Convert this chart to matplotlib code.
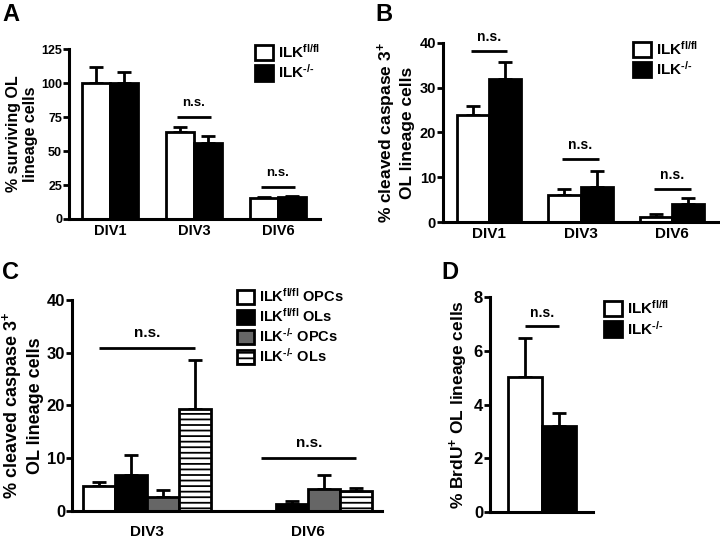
import matplotlib
matplotlib.use('Agg')
import matplotlib.pyplot as plt
from matplotlib.patches import Patch
import numpy as np

plt.rcParams['font.family'] = ['Liberation Sans', 'DejaVu Sans']
plt.rcParams['font.weight'] = 'bold'
plt.rcParams['axes.labelweight'] = 'bold'
plt.rcParams['mathtext.fontset'] = 'custom'
plt.rcParams['mathtext.rm'] = 'Liberation Sans:bold'
plt.rcParams['mathtext.bf'] = 'Liberation Sans:bold'
plt.rcParams['mathtext.it'] = 'Liberation Sans:bold'
plt.rcParams['mathtext.default'] = 'bf'
plt.rcParams['hatch.linewidth'] = 1.3

# panel A: surviving OL lineage cells
days_ab = ['DIV1', 'DIV3', 'DIV6']
surv_flfl = [100, 64, 15.5]
surv_flfl_err = [12, 4, 1.0]
surv_ko = [100, 56, 16]
surv_ko_err = [8, 5, 1.0]
surv_ns = [(1, 75), (2, 23.5)]

# panel B: cleaved caspase 3+
casp_flfl = [24, 6, 1.1]
casp_flfl_err = [2, 1.4, 0.6]
casp_ko = [32, 7.8, 4]
casp_ko_err = [3.7, 3.6, 1.3]
casp_ns = [(0, 38.2), (1, 14), (2, 7.4)]

# panel C: OPCs vs OLs
days_c = ['DIV3', 'DIV6']
c_flfl_opc = [4.8, 0]
c_flfl_opc_err = [0.7, 0]
c_flfl_ol = [6.8, 1.3]
c_flfl_ol_err = [3.8, 0.6]
c_ko_opc = [2.6, 4.2]
c_ko_opc_err = [1.4, 2.6]
c_ko_ol = [19.3, 3.7]
c_ko_ol_err = [9.3, 0.7]
c_ns = [(0, 30.9), (1, 10.0)]

# panel D: BrdU+
brdu = [5.03, 3.21]
brdu_err = [1.45, 0.46]
brdu_ns = 6.93

LW = 2.0
FL = 'ILK$^{fl/fl}$'
KO = 'ILK$^{\\text{-/-}}$'
HATCH = '---'


def bars(ax, x, vals, errs, width, **style):
    ax.bar(x, vals, width, edgecolor='black', linewidth=LW, zorder=2, **style)
    ax.errorbar(x, vals, yerr=[np.zeros(len(vals)), errs], fmt='none', ecolor='black',
                elinewidth=LW, capsize=5, capthick=LW, zorder=1)


def style_axes(ax, tick_size, label_size):
    for s in ['top', 'right']:
        ax.spines[s].set_visible(False)
    for s in ['left', 'bottom']:
        ax.spines[s].set_linewidth(2.2)
    ax.tick_params(axis='y', direction='out', length=4, width=2.0, pad=1, labelsize=tick_size)
    ax.tick_params(axis='x', length=0, labelsize=label_size)


def ns_line(ax, x0, x1, y, size=9, gap=0.06):
    ax.plot([x0, x1], [y, y], color='black', lw=LW, solid_capstyle='butt')
    ymax = ax.get_ylim()[1]
    ax.text((x0 + x1) / 2, y + gap * ymax, 'n.s.', ha='center', va='bottom', fontsize=size)


def legend(ax, handles, x, y, size=11):
    ax.legend(handles=handles, loc='upper left', bbox_to_anchor=(x, y), frameon=False,
              borderpad=0, borderaxespad=0, handlelength=1.15, handleheight=1.15,
              handletextpad=0.35, labelspacing=0.15, fontsize=size)


def patch(color, label, hatch=None):
    return Patch(facecolor=color, edgecolor='black', lw=LW, hatch=hatch, label=label)


fig = plt.figure(figsize=(7.2, 5.41), dpi=100)

# ---- A
ax = fig.add_axes([0.0958, 0.5952, 0.3486, 0.3142])
x = np.arange(len(days_ab))
w = 0.333
bars(ax, x - w / 2, surv_flfl, surv_flfl_err, w, color='white')
bars(ax, x + w / 2, surv_ko, surv_ko_err, w, color='black')
ax.set_xlim(-0.49, 2.5)
ax.set_ylim(0, 125)
ax.set_yticks([0, 25, 50, 75, 100, 125])
ax.set_xticks(x, days_ab)
style_axes(ax, 9, 10.5)
ax.set_ylabel('% surviving OL\nlineage cells', fontsize=11.5, labelpad=2)
for gx, gy in surv_ns:
    ns_line(ax, gx - 0.2, gx + 0.2, gy, size=9.5, gap=0.05)
legend(ax, [patch('white', FL), patch('black', KO)], 0.743, 1.035)

# ---- B
ax = fig.add_axes([0.6153, 0.5896, 0.382, 0.331])
w = 0.35
bars(ax, x - w / 2, casp_flfl, casp_flfl_err, w, color='white')
bars(ax, x + w / 2, casp_ko, casp_ko_err, w, color='black')
ax.set_xlim(-0.5, 2.5)
ax.set_ylim(0, 40)
ax.set_yticks([0, 10, 20, 30, 40])
ax.set_xticks(x, days_ab)
style_axes(ax, 10.5, 11)
ax.set_ylabel('% cleaved caspase 3$^{+}$\nOL lineage cells', fontsize=12.5, labelpad=3)
for gx, gy in casp_ns:
    ns_line(ax, gx - 0.2, gx + 0.2, gy, size=10, gap=0.04)
legend(ax, [patch('white', FL), patch('black', KO)], 0.691, 1.017)

# ---- C
ax = fig.add_axes([0.1, 0.0555, 0.4306, 0.39])
xc = np.arange(len(days_c))
w = 0.2
bars(ax, xc - 1.5 * w, c_flfl_opc, c_flfl_opc_err, w, color='white')
bars(ax, xc - 0.5 * w, c_flfl_ol, c_flfl_ol_err, w, color='black')
bars(ax, xc + 0.5 * w, c_ko_opc, c_ko_opc_err, w, color='#666666')
bars(ax, xc + 1.5 * w, c_ko_ol, c_ko_ol_err, w, color='white', hatch=HATCH)
ax.set_xlim(-0.466, 1.46)
ax.set_ylim(0, 40)
ax.set_yticks([0, 10, 20, 30, 40])
ax.set_xticks(xc, days_c)
style_axes(ax, 12, 11)
ax.tick_params(axis='x', pad=10)
ax.set_ylabel('% cleaved caspase 3$^{+}$\nOL lineage cells', fontsize=13, labelpad=2)
ns_line(ax, -0.3, 0.3, c_ns[0][1], size=11, gap=0.04)
ns_line(ax, 0.71, 1.3, c_ns[1][1], size=11, gap=0.04)
legend(ax, [patch('white', FL + ' OPCs'), patch('black', FL + ' OLs'),
            patch('#666666', KO + ' OPCs'), patch('white', KO + ' OLs', HATCH)],
       0.532, 1.062, size=10.5)

# ---- D
ax = fig.add_axes([0.6806, 0.0536, 0.143, 0.397])
xd = np.arange(len(brdu))
bars(ax, xd, brdu, brdu_err, 1.0, color=['white', 'black'])
ax.set_xlim(-1.03, 2.0)
ax.set_ylim(0, 8)
ax.set_yticks([0, 2, 4, 6, 8])
ax.set_xticks([])
style_axes(ax, 12, 11)
ax.set_ylabel('% BrdU$^{+}$ OL lineage cells', fontsize=12.5, labelpad=3)
ns_line(ax, 0, 1, brdu_ns, size=10, gap=0.03)
legend(ax, [patch('white', FL), patch('black', KO)], 1.107, 0.991)

for lx, ly, letter in [(0.004, 0.995, 'A'), (0.522, 0.995, 'B'), (0.003, 0.517, 'C'), (0.613, 0.517, 'D')]:
    fig.text(lx, ly, letter, fontsize=17, fontweight='bold', va='top', ha='left')

fig.savefig('out.png', dpi=100)
